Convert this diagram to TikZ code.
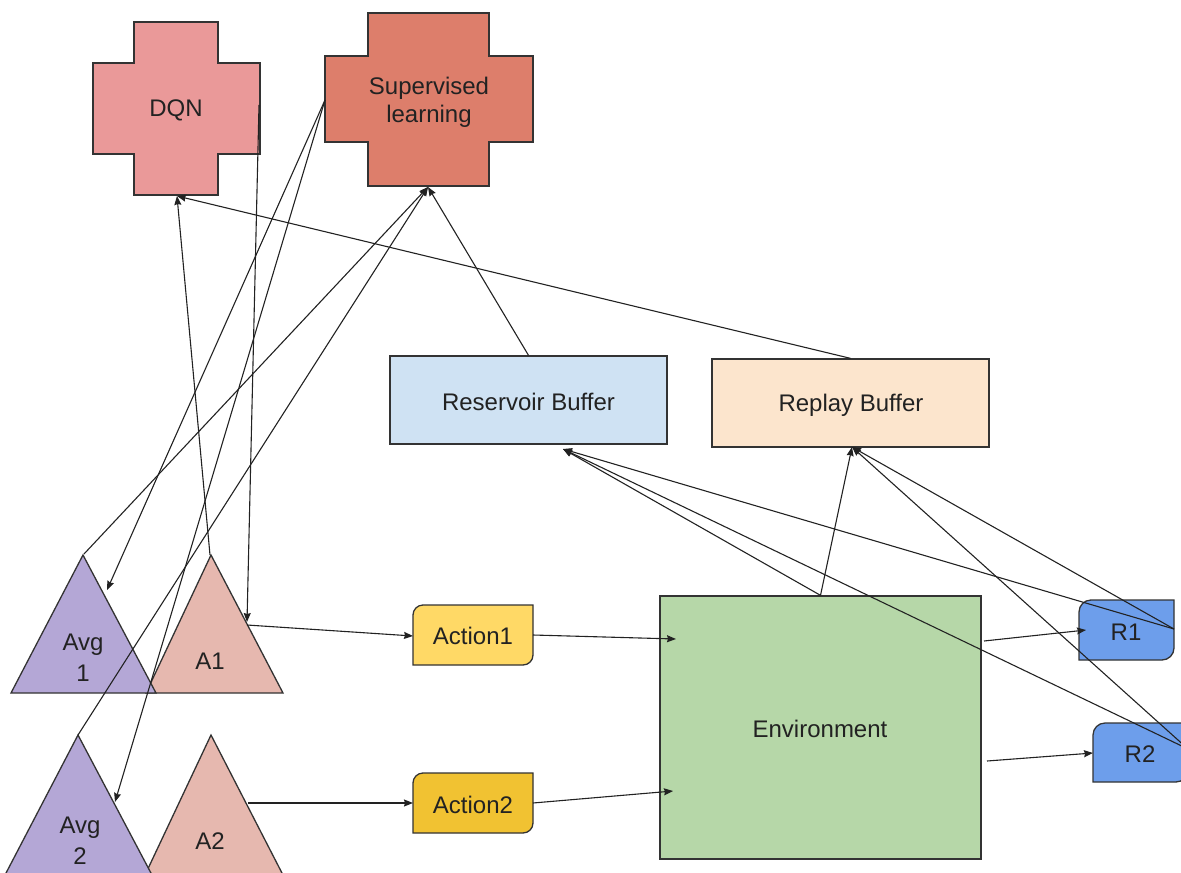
\documentclass[tikz,border=0pt]{standalone}
\usepackage{fontspec}
\setmainfont{Liberation Sans}
\usetikzlibrary{arrows.meta,calc}
\definecolor{dqnc}{HTML}{EA9999}
\definecolor{supc}{HTML}{DD7E6B}
\definecolor{resc}{HTML}{CFE2F3}
\definecolor{repc}{HTML}{FCE5CD}
\definecolor{envc}{HTML}{B6D7A8}
\definecolor{actonec}{HTML}{FFD966}
\definecolor{acttwoc}{HTML}{F1C232}
\definecolor{rc}{HTML}{6D9EEB}
\definecolor{avgc}{HTML}{B4A7D6}
\definecolor{ac}{HTML}{E6B8AF}
\definecolor{edgec}{HTML}{333333}
\definecolor{linec}{HTML}{222222}
\begin{document}
\begin{tikzpicture}[x=1pt,y=-1pt,
  shapeline/.style={draw=edgec,line width=1.3pt},
  lbl/.style={font=\fontsize{24}{28}\selectfont,text=linec,align=center,inner sep=0pt},
  twoline/.style={lbl,font=\fontsize{24}{31}\selectfont},
  rectbox/.style={shapeline,rectangle,inner sep=0pt},
  conn/.style={draw=linec,line width=1.1pt,-{Stealth[length=9pt,width=7pt,inset=1pt]}}
]
\useasboundingbox (0,0) rectangle (1181,873);
\clip (0,0) rectangle (1181,873);

% crosses
\path[shapeline,fill=dqnc] (134,22) -- (218,22) -- (218,63) -- (260,63) -- (260,154) -- (218,154) -- (218,195) -- (134,195) -- (134,154) -- (93,154) -- (93,63) -- (134,63) -- cycle;
\node[lbl] (dqn) at (176,110) {DQN};
\path[shapeline,fill=supc] (368,13) -- (489,13) -- (489,56) -- (533,56) -- (533,142) -- (489,142) -- (489,186) -- (368,186) -- (368,142) -- (325,142) -- (325,56) -- (368,56) -- cycle;
\node[lbl] (sup) at (429,102) {Supervised\\learning};

% buffers and environment
\node[rectbox,fill=resc,minimum width=277pt,minimum height=88pt] (res) at (528.5,400) {};
\node[lbl] (restext) at (528.5,402) {Reservoir Buffer};
\node[rectbox,fill=repc,minimum width=277pt,minimum height=88pt] (rep) at (850.5,403) {};
\node[lbl] (reptext) at (851,405) {Replay Buffer};
\node[rectbox,fill=envc,minimum width=321pt,minimum height=263pt] (env) at (820.5,727.5) {};
\node[lbl] (envtext) at (820,729) {Environment};

% triangles
\path[shapeline,fill=ac] (211,555) -- (283,693) -- (146,693) -- cycle;
\path[shapeline,fill=avgc] (83,555) -- (156,693) -- (11,693) -- cycle;
\path[shapeline,fill=ac] (211,735) -- (283,875) -- (145,875) -- cycle;
\path[shapeline,fill=avgc] (78,735) -- (152,875) -- (5,875) -- cycle;
\node[lbl] (aone) at (210,661) {A1};
\node[twoline] (avgone) at (83,658) {Avg\\1};
\node[lbl] (atwo) at (210,841) {A2};
\node[twoline] (avgtwo) at (80,841) {Avg\\2};

% action boxes
\path[shapeline,fill=actonec] (413,665) -- (413,615) arc[start angle=180,end angle=270,radius=10] -- (533,605) -- (533,655) arc[start angle=0,end angle=90,radius=10] -- cycle;
\node[lbl] (actone) at (473,636) {Action1};
\path[shapeline,fill=acttwoc] (413,833) -- (413,783) arc[start angle=180,end angle=270,radius=10] -- (533,773) -- (533,823) arc[start angle=0,end angle=90,radius=10] -- cycle;
\node[lbl] (acttwo) at (473,805) {Action2};

% reward boxes
\path[shapeline,fill=rc] (1079,660) -- (1079,612) arc[start angle=180,end angle=270,radius=12] -- (1174,600) -- (1174,648) arc[start angle=0,end angle=90,radius=12] -- cycle;
\node[lbl] (rone) at (1126,632) {R1};
\path[shapeline,fill=rc] (1093,782) -- (1093,735) arc[start angle=180,end angle=270,radius=12] -- (1188,723) -- (1188,770) arc[start angle=0,end angle=90,radius=12] -- cycle;
\node[lbl] (rtwo) at (1140,754) {R2};

% connector end points
\coordinate (avgonetop) at (84,554);
\coordinate (avgtwotop) at (78,735);
\coordinate (aonetop) at (210,555);
\coordinate (avgoneside) at (107,590);
\coordinate (avgtwoside) at (115,802);
\coordinate (aoneside) at (247,622);
\coordinate (aoneout) at (247,625);
\coordinate (atwoout) at (248,803);
\coordinate (dqnb) at (177,196);
\coordinate (dqnr) at (259,105);
\coordinate (supl) at (325,100);
\coordinate (supb) at (428,187);
\coordinate (resb) at (563,449);
\coordinate (repb) at (852,447);
\coordinate (actonew) at (413,636);
\coordinate (actonee) at (533,635);
\coordinate (acttwow) at (413,803);
\coordinate (acttwoe) at (533,803);
\coordinate (envinone) at (676,639);
\coordinate (envintwo) at (673,791);
\coordinate (envoutone) at (984,641);
\coordinate (envouttwo) at (987,761);
\coordinate (roneinp) at (1086,630);
\coordinate (roneright) at (1174,629);
\coordinate (rtwoinp) at (1093,753);
\coordinate (rtworight) at (1188,749);

% connectors
\draw[conn] (avgonetop) -- (supb);
\draw[conn] (avgtwotop) -- (supb);
\draw[conn] (res.north) -- (supb);
\draw[conn] (supl) -- (avgoneside);
\draw[conn] (supl) -- (avgtwoside);
\draw[conn] (aonetop) -- (dqnb);
\draw[conn] (dqnr) -- (aoneside);
\draw[conn] (rep.north) -- (dqnb);
\draw[conn] (aoneout) -- (actonew);
\draw[conn] (atwoout) -- (acttwow);
\draw[conn] (actonee) -- (envinone);
\draw[conn] (acttwoe) -- (envintwo);
\draw[conn] (envoutone) -- (roneinp);
\draw[conn] (envouttwo) -- (rtwoinp);
\draw[conn] (env.north) -- (repb);
\draw[conn] (env.north) -- (resb);
\draw[conn] (roneright) -- (resb);
\draw[conn] (roneright) -- (repb);
\draw[conn] (rtworight) -- (resb);
\draw[conn] (rtworight) -- (repb);
\end{tikzpicture}
\end{document}
